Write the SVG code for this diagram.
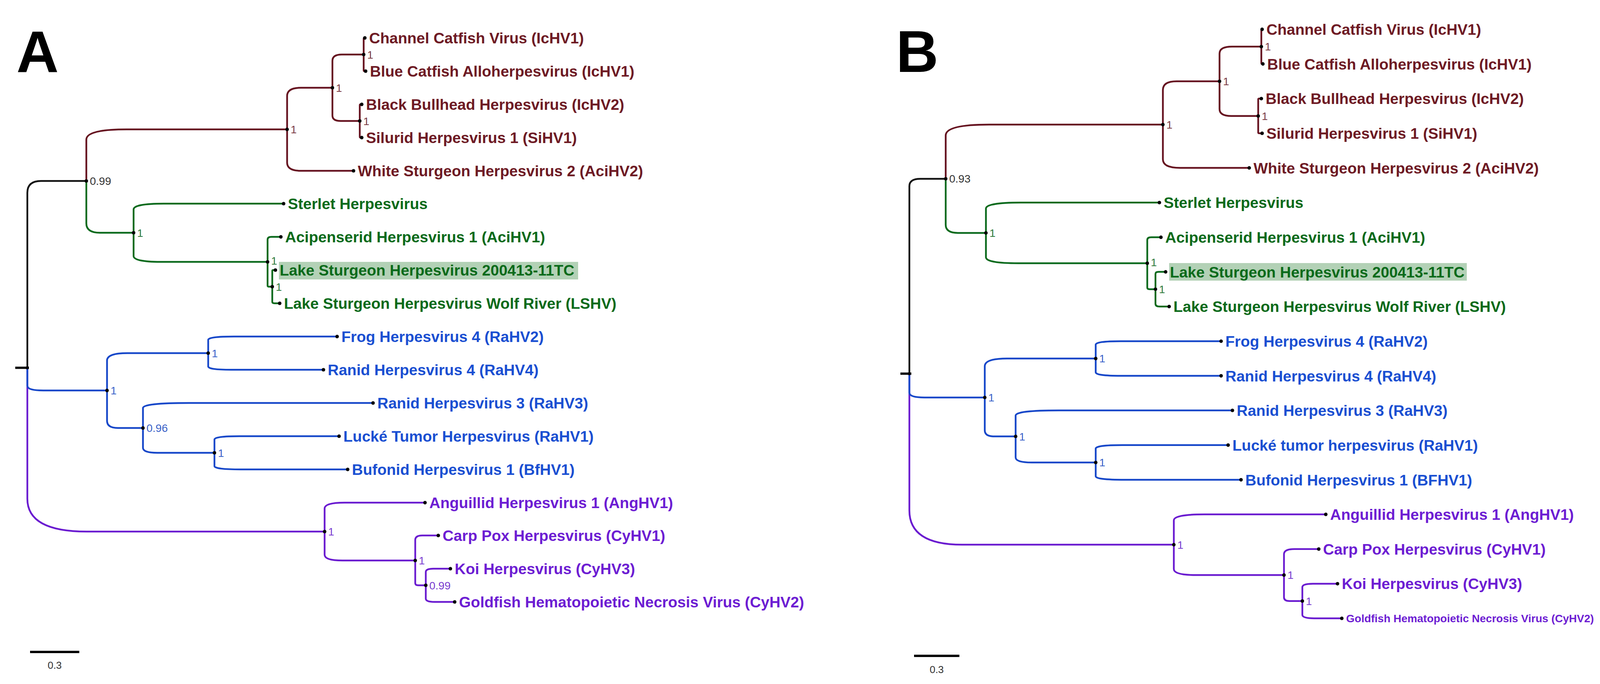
<svg xmlns="http://www.w3.org/2000/svg" width="4357" height="1750" viewBox="0 0 4357 1750">
<style>
.br{fill:none;stroke-width:4.5;stroke-linecap:round;stroke-linejoin:round}
.k{stroke:#111111}.m{stroke:#661320}.g{stroke:#0b6a1d}.b{stroke:#1647c9}.p{stroke:#6a1bd0}
.stub{stroke:#111111;stroke-width:6;fill:none}
.dot{fill:#000000}
.lab{font-family:"Liberation Sans",Arial,sans-serif;font-weight:bold;font-size:39px}
.small{font-size:28px}
.sup{font-family:"Liberation Sans",Arial,sans-serif;font-size:28px}
.tm{fill:#6e1a24}.tg{fill:#0a6a1a}.tb{fill:#1a4fd2}.tp{fill:#6d1dd3}
.sm{fill:#7a3a42}.sg{fill:#2e7a3a}.sb{fill:#3a62c8}.sp{fill:#7a3ccf}.sk{fill:#333333}
.panel{font-family:"Liberation Sans",Arial,sans-serif;font-weight:bold;font-size:150px;fill:#000}
.hl{fill:#b3d1b6}
.scale{stroke:#000;stroke-width:6}
.st{font-family:"Liberation Sans",Arial,sans-serif;font-size:26px;fill:#333;text-anchor:middle}
</style>
<rect width="4357" height="1750" fill="#ffffff"/>
<text class="panel" x="42" y="184">A</text>
<text class="panel" x="2294" y="184">B</text>

<g id="connectors-A">
<path class="stub" d="M39 941 H74"/>
<path class="br p" d="M70 941 V1276 Q70 1360 222 1360 H831"/>
<path class="br p" d="M831 1360 V1300.8 Q831 1286 882 1286 H1088"/>
<path class="br p" d="M831 1360 V1419.2 Q831 1434 877 1434 H1063"/>
<path class="br p" d="M1063 1434 V1381.8 Q1063 1370 1080.7 1370 H1122"/>
<path class="br p" d="M1063 1434 V1492 Q1063 1497.5 1071 1497.5 H1090"/>
<path class="br p" d="M1090 1497.5 V1463.5 Q1090 1455 1109 1455 H1153"/>
<path class="br p" d="M1090 1497.5 V1531.5 Q1090 1540 1112 1540 H1164"/>
<path class="br b" d="M70 941 V987 Q70 999 111 999 H274"/>
<path class="br b" d="M274 999 V922.5 Q274 903.5 326 903.5 H533"/>
<path class="br b" d="M274 999 V1076.6 Q274 1095 301.6 1095 H366"/>
<path class="br b" d="M533 903.5 V869.5 Q533 861 599 861 H863"/>
<path class="br b" d="M533 903.5 V937.5 Q533 946 592 946 H828"/>
<path class="br b" d="M366 1095 V1043.8 Q366 1031 484 1031 H955"/>
<path class="br b" d="M366 1095 V1145.8 Q366 1158.5 402.6 1158.5 H549"/>
<path class="br b" d="M549 1158.5 V1124.5 Q549 1116 613 1116 H868"/>
<path class="br b" d="M549 1158.5 V1192.5 Q549 1201 617 1201 H890"/>
<path class="br g" d="M221 463 V571.5 Q221 595.5 256 595.5 H342"/>
<path class="br g" d="M342 595.5 V536 Q342 521 419 521 H726"/>
<path class="br g" d="M342 595.5 V655 Q342 670 411 670 H685"/>
<path class="br g" d="M685 670 V613 Q685 606 695 606 H719"/>
<path class="br g" d="M685 670 V731 Q685 733.5 689 733.5 H697"/>
<path class="br g" d="M697 733.5 V693 Q697 691 699 691 H705"/>
<path class="br g" d="M697 733.5 V772 Q697 776 703 776 H716"/>
<path class="br m" d="M221 463 V357 Q221 331 324 331 H735"/>
<path class="br m" d="M735 331 V416 Q735 437 770 437 H905"/>
<path class="br m" d="M735 331 V245.5 Q735 224.5 770 224.5 H851"/>
<path class="br m" d="M851 224.5 V155.5 Q851 139.5 875 139.5 H931"/>
<path class="br m" d="M851 224.5 V295.5 Q851 309.5 872 309.5 H921"/>
<path class="br m" d="M931 139.5 V99 Q931 97 933 97 H934"/>
<path class="br m" d="M931 139.5 V180 Q931 182 933 182 H936"/>
<path class="br m" d="M921 309.5 V269 Q921 267 923 267 H926"/>
<path class="br m" d="M921 309.5 V350 Q921 352 923 352 H926"/>
<path class="br k" d="M70 941 V493 Q70 463 105 463 H221"/>
</g>

<g id="connectors-B">
<path class="stub" d="M2305 956 H2333"/>
<path class="br p" d="M2328 956 V1306 Q2328 1393.6 2463 1393.6 H3005"/>
<path class="br p" d="M3005 1393.6 V1331.5 Q3005 1316 3083 1316 H3394"/>
<path class="br p" d="M3005 1393.6 V1455.8 Q3005 1471.3 3061 1471.3 H3287"/>
<path class="br p" d="M3287 1471.3 V1418.1 Q3287 1404.8 3313.7 1404.8 H3376"/>
<path class="br p" d="M3287 1471.3 V1528.3 Q3287 1537.7 3301 1537.7 H3334"/>
<path class="br p" d="M3334 1537.7 V1502.3 Q3334 1493.4 3361 1493.4 H3424"/>
<path class="br p" d="M3334 1537.7 V1573.1 Q3334 1582 3364 1582 H3435"/>
<path class="br b" d="M2328 956 V1004.7 Q2328 1016.9 2366.6 1016.9 H2521"/>
<path class="br b" d="M2521 1016.9 V937.2 Q2521 917.2 2578 917.2 H2805"/>
<path class="br b" d="M2521 1016.9 V1100.8 Q2521 1116.6 2544.7 1116.6 H2600"/>
<path class="br b" d="M2805 917.2 V881.8 Q2805 872.9 2869 872.9 H3126"/>
<path class="br b" d="M2805 917.2 V952.6 Q2805 961.5 2869 961.5 H3126"/>
<path class="br b" d="M2600 1116.6 V1063.3 Q2600 1050 2711 1050 H3155"/>
<path class="br b" d="M2600 1116.6 V1169.9 Q2600 1183.2 2641 1183.2 H2805"/>
<path class="br b" d="M2805 1183.2 V1147.7 Q2805 1138.8 2873 1138.8 H3144"/>
<path class="br b" d="M2805 1183.2 V1218.6 Q2805 1227.5 2879 1227.5 H3177"/>
<path class="br g" d="M2421 457.4 V575.3 Q2421 595.9 2452 595.9 H2524"/>
<path class="br g" d="M2524 595.9 V533.8 Q2524 518.3 2613 518.3 H2968"/>
<path class="br g" d="M2524 595.9 V658 Q2524 673.5 2607 673.5 H2937"/>
<path class="br g" d="M2937 673.5 V614 Q2937 607 2947.5 607 H2972"/>
<path class="br g" d="M2937 673.5 V735.7 Q2937 739.9 2943.3 739.9 H2958"/>
<path class="br g" d="M2958 739.9 V700.8 Q2958 695.6 2965.8 695.6 H2984"/>
<path class="br g" d="M2958 739.9 V777.2 Q2958 784.2 2968.5 784.2 H2993"/>
<path class="br m" d="M2421 457.4 V346.5 Q2421 318.8 2532 318.8 H2977"/>
<path class="br m" d="M2977 318.8 V407.6 Q2977 429.6 3021 429.6 H3198"/>
<path class="br m" d="M2977 318.8 V230 Q2977 208 3012 208 H3122"/>
<path class="br m" d="M3122 208 V137 Q3122 119.3 3154 119.3 H3229"/>
<path class="br m" d="M3122 208 V279 Q3122 296.7 3152 296.7 H3221"/>
<path class="br m" d="M3229 119.3 V77 Q3229 75 3231 75 H3231"/>
<path class="br m" d="M3229 119.3 V161.6 Q3229 163.6 3231 163.6 H3233"/>
<path class="br m" d="M3221 296.7 V254.3 Q3221 252.3 3223.4 252.3 H3229"/>
<path class="br m" d="M3221 296.7 V339 Q3221 341 3224 341 H3231"/>
<path class="br k" d="M2328 956 V476 Q2328 457.4 2356 457.4 H2421"/>
</g>

<!-- Panel A nodes -->
<g id="A-root"><circle class="dot" cx="70" cy="941" r="4"/></g>
<g id="A-n099"><circle class="dot" cx="221" cy="463" r="4.5"/><text class="sup sk" x="230" y="473">0.99</text></g>
<g id="A-nIctW"><circle class="dot" cx="735" cy="331" r="4.5"/><text class="sup sm" x="744" y="341">1</text></g>
<g id="A-nCat"><circle class="dot" cx="851" cy="224.5" r="4.5"/><text class="sup sm" x="860" y="234.5">1</text></g>
<g id="A-nCB"><circle class="dot" cx="931" cy="139.5" r="4.5"/><text class="sup sm" x="940" y="149.5">1</text></g>
<g id="A-nBS"><circle class="dot" cx="921" cy="309.5" r="4.5"/><text class="sup sm" x="930" y="319.5">1</text></g>
<g id="A-nGreen"><circle class="dot" cx="342" cy="595.5" r="4.5"/><text class="sup sg" x="351" y="605.5">1</text></g>
<g id="A-nAciLS"><circle class="dot" cx="685" cy="670" r="4.5"/><text class="sup sg" x="694" y="677">1</text></g>
<g id="A-nLS"><circle class="dot" cx="697" cy="733.5" r="4.5"/><text class="sup sg" x="706" y="743.5">1</text></g>
<g id="A-nBlue"><circle class="dot" cx="274" cy="999" r="4.5"/><text class="sup sb" x="283" y="1009">1</text></g>
<g id="A-nFR"><circle class="dot" cx="533" cy="903.5" r="4.5"/><text class="sup sb" x="542" y="913.5">1</text></g>
<g id="A-n096"><circle class="dot" cx="366" cy="1095" r="4.5"/><text class="sup sb" x="375" y="1105">0.96</text></g>
<g id="A-nLB"><circle class="dot" cx="549" cy="1158.5" r="4.5"/><text class="sup sb" x="558" y="1168.5">1</text></g>
<g id="A-nPurple"><circle class="dot" cx="831" cy="1360" r="4.5"/><text class="sup sp" x="840" y="1370">1</text></g>
<g id="A-nCKG"><circle class="dot" cx="1063" cy="1434" r="4.5"/><text class="sup sp" x="1072" y="1444">1</text></g>
<g id="A-nKG"><circle class="dot" cx="1090" cy="1497.5" r="4.5"/><text class="sup sp" x="1099" y="1507.5">0.99</text></g>

<g id="A-t1"><circle class="dot" cx="934" cy="97" r="4.5"/><text class="lab tm" x="945" y="111">Channel Catfish Virus (IcHV1)</text></g>
<g id="A-t2"><circle class="dot" cx="936" cy="182" r="4.5"/><text class="lab tm" x="947" y="196">Blue Catfish Alloherpesvirus (IcHV1)</text></g>
<g id="A-t3"><circle class="dot" cx="926" cy="267" r="4.5"/><text class="lab tm" x="937" y="281">Black Bullhead Herpesvirus (IcHV2)</text></g>
<g id="A-t4"><circle class="dot" cx="926" cy="352" r="4.5"/><text class="lab tm" x="937" y="366">Silurid Herpesvirus 1 (SiHV1)</text></g>
<g id="A-t5"><circle class="dot" cx="905" cy="437" r="4.5"/><text class="lab tm" x="916" y="451">White Sturgeon Herpesvirus 2 (AciHV2)</text></g>
<g id="A-t6"><circle class="dot" cx="726" cy="521" r="4.5"/><text class="lab tg" x="737" y="535">Sterlet Herpesvirus</text></g>
<g id="A-t7"><circle class="dot" cx="719" cy="606" r="4.5"/><text class="lab tg" x="730" y="620">Acipenserid Herpesvirus 1 (AciHV1)</text></g>
<g id="A-t8"><rect class="hl" x="714" y="670" width="766" height="45"/><circle class="dot" cx="705" cy="691" r="4.5"/><text class="lab tg" x="716" y="705">Lake Sturgeon Herpesvirus 200413-11TC</text></g>
<g id="A-t9"><circle class="dot" cx="716" cy="776" r="4.5"/><text class="lab tg" x="727" y="790">Lake Sturgeon Herpesvirus Wolf River (LSHV)</text></g>
<g id="A-t10"><circle class="dot" cx="863" cy="861" r="4.5"/><text class="lab tb" x="874" y="875">Frog Herpesvirus 4 (RaHV2)</text></g>
<g id="A-t11"><circle class="dot" cx="828" cy="946" r="4.5"/><text class="lab tb" x="839" y="960">Ranid Herpesvirus 4 (RaHV4)</text></g>
<g id="A-t12"><circle class="dot" cx="955" cy="1031" r="4.5"/><text class="lab tb" x="966" y="1045">Ranid Herpesvirus 3 (RaHV3)</text></g>
<g id="A-t13"><circle class="dot" cx="868" cy="1116" r="4.5"/><text class="lab tb" x="879" y="1130">Lucké Tumor Herpesvirus (RaHV1)</text></g>
<g id="A-t14"><circle class="dot" cx="890" cy="1201" r="4.5"/><text class="lab tb" x="901" y="1215">Bufonid Herpesvirus 1 (BfHV1)</text></g>
<g id="A-t15"><circle class="dot" cx="1088" cy="1286" r="4.5"/><text class="lab tp" x="1099" y="1300">Anguillid Herpesvirus 1 (AngHV1)</text></g>
<g id="A-t16"><circle class="dot" cx="1122" cy="1370" r="4.5"/><text class="lab tp" x="1133" y="1384">Carp Pox Herpesvirus (CyHV1)</text></g>
<g id="A-t17"><circle class="dot" cx="1153" cy="1455" r="4.5"/><text class="lab tp" x="1164" y="1469">Koi Herpesvirus (CyHV3)</text></g>
<g id="A-t18"><circle class="dot" cx="1164" cy="1540" r="4.5"/><text class="lab tp" x="1175" y="1554">Goldfish Hematopoietic Necrosis Virus (CyHV2)</text></g>

<g id="A-scale"><line class="scale" x1="77" y1="1668" x2="203" y2="1668"/><text class="st" x="140" y="1711">0.3</text></g>

<!-- Panel B nodes -->
<g id="B-root"><circle class="dot" cx="2328" cy="956" r="4"/></g>
<g id="B-n093"><circle class="dot" cx="2421" cy="457.4" r="4.5"/><text class="sup sk" x="2430" y="467.4">0.93</text></g>
<g id="B-nIctW"><circle class="dot" cx="2977" cy="318.8" r="4.5"/><text class="sup sm" x="2986" y="328.8">1</text></g>
<g id="B-nCat"><circle class="dot" cx="3122" cy="208" r="4.5"/><text class="sup sm" x="3131" y="218">1</text></g>
<g id="B-nCB"><circle class="dot" cx="3229" cy="119.3" r="4.5"/><text class="sup sm" x="3238" y="129.3">1</text></g>
<g id="B-nBS"><circle class="dot" cx="3221" cy="296.7" r="4.5"/><text class="sup sm" x="3230" y="306.7">1</text></g>
<g id="B-nGreen"><circle class="dot" cx="2524" cy="595.9" r="4.5"/><text class="sup sg" x="2533" y="605.9">1</text></g>
<g id="B-nAciLS"><circle class="dot" cx="2937" cy="673.5" r="4.5"/><text class="sup sg" x="2946" y="681">1</text></g>
<g id="B-nLS"><circle class="dot" cx="2958" cy="739.9" r="4.5"/><text class="sup sg" x="2967" y="749.9">1</text></g>
<g id="B-nBlue"><circle class="dot" cx="2521" cy="1016.9" r="4.5"/><text class="sup sb" x="2530" y="1026.9">1</text></g>
<g id="B-nFR"><circle class="dot" cx="2805" cy="917.2" r="4.5"/><text class="sup sb" x="2814" y="927.2">1</text></g>
<g id="B-nR3"><circle class="dot" cx="2600" cy="1116.6" r="4.5"/><text class="sup sb" x="2609" y="1126.6">1</text></g>
<g id="B-nLB"><circle class="dot" cx="2805" cy="1183.2" r="4.5"/><text class="sup sb" x="2814" y="1193.2">1</text></g>
<g id="B-nPurple"><circle class="dot" cx="3005" cy="1393.6" r="4.5"/><text class="sup sp" x="3014" y="1403.6">1</text></g>
<g id="B-nCKG"><circle class="dot" cx="3287" cy="1471.3" r="4.5"/><text class="sup sp" x="3296" y="1481.3">1</text></g>
<g id="B-nKG"><circle class="dot" cx="3334" cy="1537.7" r="4.5"/><text class="sup sp" x="3343" y="1547.7">1</text></g>

<g id="B-t1"><circle class="dot" cx="3231" cy="75" r="4.5"/><text class="lab tm" x="3242" y="89">Channel Catfish Virus (IcHV1)</text></g>
<g id="B-t2"><circle class="dot" cx="3233" cy="163.6" r="4.5"/><text class="lab tm" x="3244" y="177.6">Blue Catfish Alloherpesvirus (IcHV1)</text></g>
<g id="B-t3"><circle class="dot" cx="3229" cy="252.3" r="4.5"/><text class="lab tm" x="3240" y="266.3">Black Bullhead Herpesvirus (IcHV2)</text></g>
<g id="B-t4"><circle class="dot" cx="3231" cy="341" r="4.5"/><text class="lab tm" x="3242" y="355">Silurid Herpesvirus 1 (SiHV1)</text></g>
<g id="B-t5"><circle class="dot" cx="3198" cy="429.6" r="4.5"/><text class="lab tm" x="3209" y="443.6">White Sturgeon Herpesvirus 2 (AciHV2)</text></g>
<g id="B-t6"><circle class="dot" cx="2968" cy="518.3" r="4.5"/><text class="lab tg" x="2979" y="532.3">Sterlet Herpesvirus</text></g>
<g id="B-t7"><circle class="dot" cx="2972" cy="607" r="4.5"/><text class="lab tg" x="2983" y="621">Acipenserid Herpesvirus 1 (AciHV1)</text></g>
<g id="B-t8"><rect class="hl" x="2993" y="673" width="762" height="45"/><circle class="dot" cx="2984" cy="695.6" r="4.5"/><text class="lab tg" x="2995" y="709.6">Lake Sturgeon Herpesvirus 200413-11TC</text></g>
<g id="B-t9"><circle class="dot" cx="2993" cy="784.2" r="4.5"/><text class="lab tg" x="3004" y="798.2">Lake Sturgeon Herpesvirus Wolf River (LSHV)</text></g>
<g id="B-t10"><circle class="dot" cx="3126" cy="872.9" r="4.5"/><text class="lab tb" x="3137" y="886.9">Frog Herpesvirus 4 (RaHV2)</text></g>
<g id="B-t11"><circle class="dot" cx="3126" cy="961.5" r="4.5"/><text class="lab tb" x="3137" y="975.5">Ranid Herpesvirus 4 (RaHV4)</text></g>
<g id="B-t12"><circle class="dot" cx="3155" cy="1050" r="4.5"/><text class="lab tb" x="3166" y="1064">Ranid Herpesvirus 3 (RaHV3)</text></g>
<g id="B-t13"><circle class="dot" cx="3144" cy="1138.8" r="4.5"/><text class="lab tb" x="3155" y="1152.8">Lucké tumor herpesvirus (RaHV1)</text></g>
<g id="B-t14"><circle class="dot" cx="3177" cy="1227.5" r="4.5"/><text class="lab tb" x="3188" y="1241.5">Bufonid Herpesvirus 1 (BFHV1)</text></g>
<g id="B-t15"><circle class="dot" cx="3394" cy="1316" r="4.5"/><text class="lab tp" x="3405" y="1330">Anguillid Herpesvirus 1 (AngHV1)</text></g>
<g id="B-t16"><circle class="dot" cx="3376" cy="1404.8" r="4.5"/><text class="lab tp" x="3387" y="1418.8">Carp Pox Herpesvirus (CyHV1)</text></g>
<g id="B-t17"><circle class="dot" cx="3424" cy="1493.4" r="4.5"/><text class="lab tp" x="3435" y="1507.4">Koi Herpesvirus (CyHV3)</text></g>
<g id="B-t18"><circle class="dot" cx="3435" cy="1582" r="4.5"/><text class="lab small tp" x="3446" y="1592">Goldfish Hematopoietic Necrosis Virus (CyHV2)</text></g>

<g id="B-scale"><line class="scale" x1="2340" y1="1678" x2="2456" y2="1678"/><text class="st" x="2398" y="1722">0.3</text></g>
</svg>
